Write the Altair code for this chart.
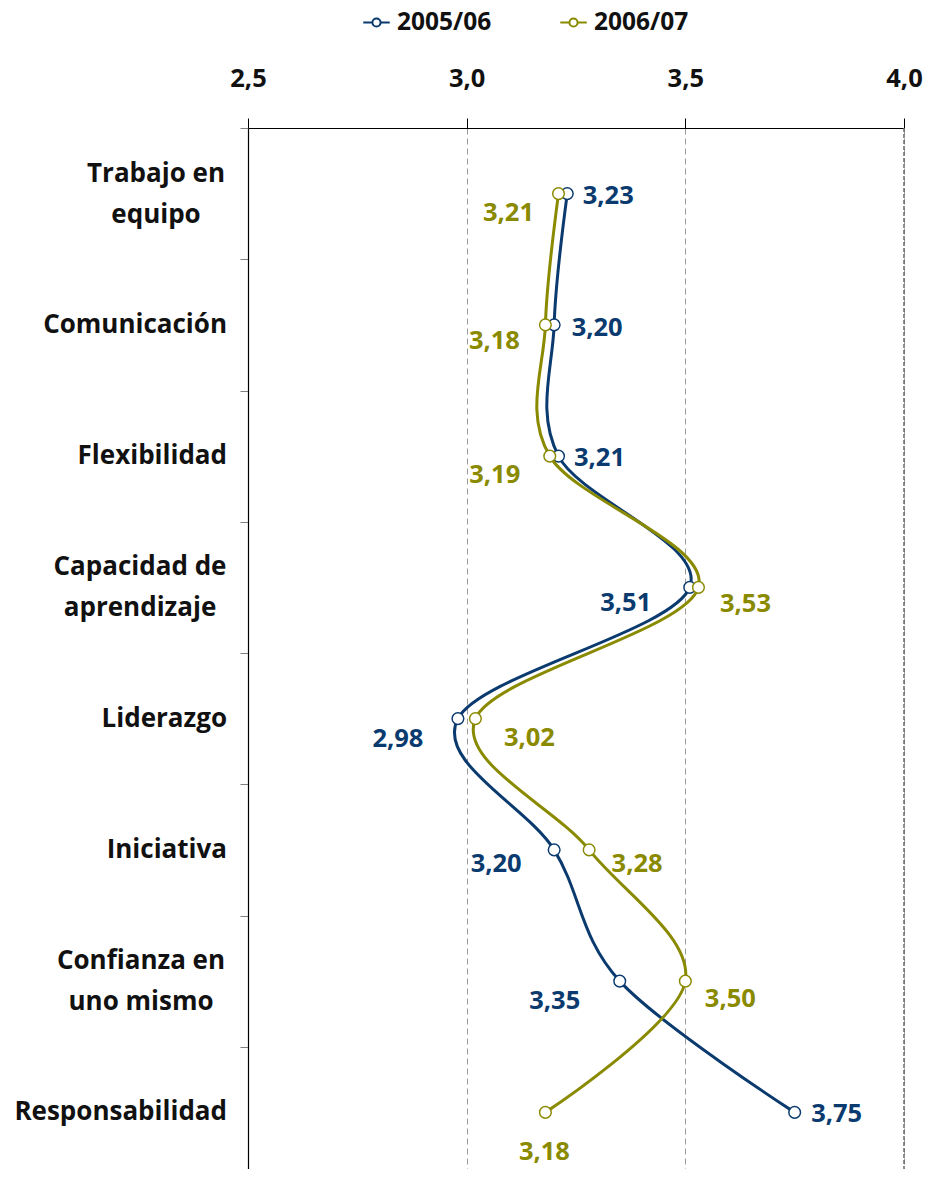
import altair as alt
import pandas as pd

categories = ["Trabajo en equipo", "Comunicación", "Flexibilidad",
              "Capacidad de aprendizaje", "Liderazgo", "Iniciativa",
              "Confianza en uno mismo", "Responsabilidad"]
series_names = ["2005/06", "2006/07"]
values_2005 = [3.23, 3.20, 3.21, 3.51, 2.98, 3.20, 3.35, 3.75]
values_2006 = [3.21, 3.18, 3.19, 3.53, 3.02, 3.28, 3.50, 3.18]
x_ticks = [2.5, 3.0, 3.5, 4.0]

# label placement (pixels, style only)
dx_2005 = [41, 43, 41, -64, -60, -58, -65, 42]
dy_2005 = [2, 3, 2, 16, 20, 14, 20, 2]
dx_2006 = [-50, -51, -55, 47, 54, 48, 45, -1]
dy_2006 = [19, 16, 19, 17, 19, 14, 18, 40]

# category label lines
cat_line1 = ["Trabajo en", "Comunicación", "Flexibilidad", "Capacidad de",
             "Liderazgo", "Iniciativa", "Confianza en", "Responsabilidad"]
cat_line2 = ["equipo", "", "", "aprendizaje", "", "", "uno mismo", ""]
# horizontal centre (px from plot left) of the two-line label blocks (style only)
cat_center = [-92, 0, 0, -108, 0, 0, -107, 0]

BLUE = "#0A3A6E"
OLIVE = "#8A8A00"
TXT = "#111111"
FONT = "Open Sans"

rows = []
for name, vals in [(series_names[0], values_2005), (series_names[1], values_2006)]:
    for i, (c, v) in enumerate(zip(categories, vals)):
        rows.append({"serie": name, "cat": c, "idx": i, "v": v,
                     "lab": f"{v:.2f}".replace(".", ",")})
df = pd.DataFrame(rows)
df_cat = pd.DataFrame({"cat": categories, "l1": cat_line1, "l2": cat_line2,
                       "idx": list(range(len(categories)))})

xscale = alt.Scale(domain=[2.5, 4.0], nice=False, zero=False)
yscale = alt.Scale(domain=categories, range=[0, 1050], paddingInner=0, paddingOuter=0)

x_enc = alt.X("v:Q", scale=xscale, axis=alt.Axis(
    orient="top", values=x_ticks, labelExpr="replace(format(datum.value, '.1f'), '.', ',')",
    labelFont=FONT, labelFontSize=25.5, labelFontWeight="bold", labelColor=TXT,
    labelFlush=False, labelPadding=27, tickSize=10, tickColor="#000000",
    domainColor="#000000", tickWidth=1, domainWidth=1.2, grid=True,
    gridDash=[6, 4], gridColor="#9a9a9a", gridWidth=1, title=None))
y_enc = alt.Y("cat:N", scale=yscale, sort=categories, axis=alt.Axis(
    orient="left", labels=False, tickSize=8, tickColor="#808080", tickBand="extent",
    domainColor="#000000", domainWidth=1.2, title=None))

color_scale = alt.Scale(domain=series_names, range=[BLUE, OLIVE])
legend_path = ("M-1,0H-0.31M0.31,0H1M0.31,0A0.31,0.31,0,1,1,-0.31,0"
               "A0.31,0.31,0,1,1,0.31,0")

base = alt.Chart(df)
layers = []
label_layers = []
for k, (name, col, dxs, dys) in enumerate(zip(series_names, [BLUE, OLIVE],
                                              [dx_2005, dx_2006], [dy_2005, dy_2006])):
    sub = base.transform_filter(alt.datum.serie == name)
    if k == 0:
        color = alt.Color("serie:N", scale=color_scale, legend=alt.Legend(
            orient="none", legendX=114, legendY=-120, direction="horizontal",
            title=None, symbolType=legend_path, symbolSize=700,
            symbolStrokeWidth=2, symbolFillColor="white", labelFont=FONT,
            labelFontSize=24.5, labelFontWeight="bold", labelColor=TXT,
            columnPadding=64, labelOffset=6))
    else:
        color = alt.Color("serie:N", scale=color_scale, legend=None)
    line = sub.mark_line(interpolate="cardinal", tension=0, strokeWidth=3).encode(
        x=x_enc, y=y_enc, order=alt.Order("idx:Q"), color=color)
    pts = sub.mark_point(filled=True, fill="white", stroke=col, strokeWidth=1.5,
                         size=135, opacity=1).encode(x=x_enc, y=y_enc)
    layers += [line, pts]
    for i in range(len(categories)):
        label_layers.append(
            sub.transform_filter(alt.datum.idx == i).mark_text(
                font=FONT, fontSize=25.5, fontWeight="bold", color=col,
                align="center", baseline="middle", dx=dxs[i], dy=dys[i]).encode(
                x=alt.X("v:Q", scale=xscale), y=alt.Y("cat:N", scale=yscale),
                text="lab:N"))

cbase = alt.Chart(df_cat)
cat_text = dict(font=FONT, fontSize=26, fontWeight="bold", color=TXT, baseline="middle")
cat_layers = [cbase.transform_filter(alt.datum.l2 == "").mark_text(
    align="right", **cat_text).encode(
    x=alt.value(-21), y=alt.Y("cat:N", scale=yscale), text="l1:N")]
for i in range(len(categories)):
    if cat_line2[i]:
        for field, dy in (("l1", -20), ("l2", 21)):
            cat_layers.append(cbase.transform_filter(alt.datum.idx == i).mark_text(
                align="center", dy=dy, **cat_text).encode(
                x=alt.value(cat_center[i]), y=alt.Y("cat:N", scale=yscale),
                text=f"{field}:N"))

rule4 = alt.Chart(pd.DataFrame({"v": [4.0]})).mark_rule(
    color="#6a6a6a", strokeDash=[4, 2], strokeWidth=1.5).encode(
    x=alt.X("v:Q", scale=xscale), y=alt.value(0), y2=alt.value(1050))

chart = alt.layer(rule4, *layers, *label_layers, *cat_layers).properties(
    width=656, height=1041,
    autosize=alt.AutoSizeParams(type="none"),
    padding={"left": 240, "top": 120, "right": 21, "bottom": 0},
).configure_view(stroke=None)

chart.save("out.html", embed_options={"renderer": "svg", "actions": False})
